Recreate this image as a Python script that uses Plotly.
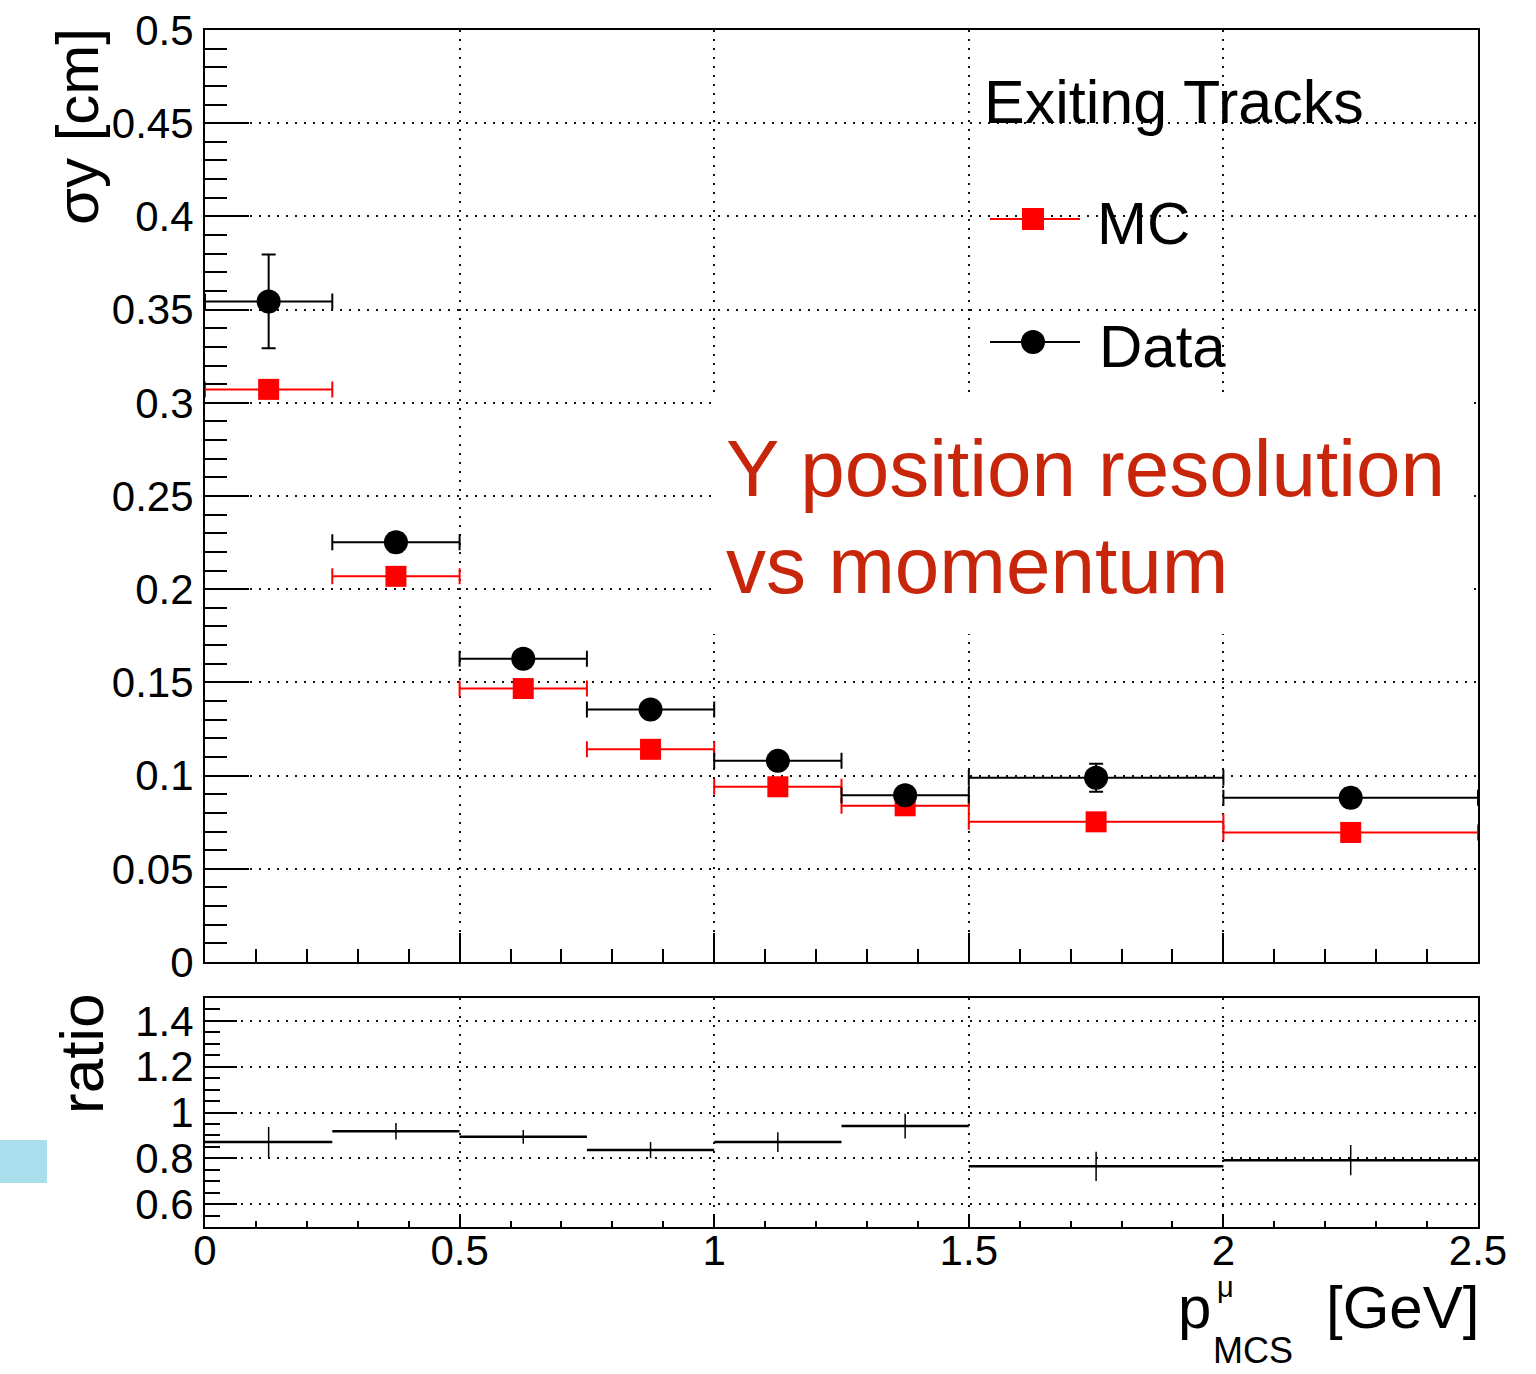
import plotly.graph_objects as go

# ---------------- data ----------------
bin_edges = [0.0, 0.25, 0.5, 0.75, 1.0, 1.25, 1.5, 2.0, 2.5]

data_y = [0.3544, 0.2252, 0.1627, 0.1354, 0.1079, 0.0895, 0.0988, 0.0881]
data_err = [0.0251, 0.0050, 0.0040, 0.0040, 0.0040, 0.0040, 0.0075, 0.0050]

mc_y = [0.3072, 0.2069, 0.1467, 0.1141, 0.0940, 0.0838, 0.0752, 0.0695]
mc_err = [0.0020, 0.0015, 0.0012, 0.0010, 0.0010, 0.0010, 0.0008, 0.0008]

ratio_y = [0.871, 0.918, 0.894, 0.836, 0.871, 0.941, 0.765, 0.792]
ratio_err = [0.066, 0.036, 0.030, 0.035, 0.043, 0.054, 0.064, 0.066]

y_ticks_main = [0, 0.05, 0.1, 0.15, 0.2, 0.25, 0.3, 0.35, 0.4, 0.45, 0.5]
y_ticks_ratio = [0.6, 0.8, 1.0, 1.2, 1.4]
x_ticks = [0, 0.5, 1, 1.5, 2, 2.5]

legend_title = "Exiting Tracks"
label_mc = "MC"
label_data = "Data"
note_line1 = "Y position resolution"
note_line2 = "vs momentum"

# ---------------- derived ----------------
centers = [(a + b) / 2 for a, b in zip(bin_edges[:-1], bin_edges[1:])]
half_w = [(b - a) / 2 for a, b in zip(bin_edges[:-1], bin_edges[1:])]

W, H = 1536, 1374
FONT = "Liberation Sans, Arial, Helvetica, sans-serif"
RED = "#FF0000"
NOTE_RED = "#C8260A"


def px(x):
    return x / W


def py(y):
    return 1 - y / H


fig = go.Figure()

# MC (main panel)
fig.add_trace(go.Scatter(
    x=centers, y=mc_y, mode="markers", name=label_mc,
    marker=dict(symbol="square", size=21, color=RED),
    error_x=dict(type="data", array=half_w, color=RED, thickness=2, width=8),
    error_y=dict(type="data", array=mc_err, color=RED, thickness=2, width=6),
    xaxis="x", yaxis="y", showlegend=False,
))
# Data (main panel)
fig.add_trace(go.Scatter(
    x=centers, y=data_y, mode="markers", name=label_data,
    marker=dict(symbol="circle", size=24, color="black"),
    error_x=dict(type="data", array=half_w, color="black", thickness=2, width=8),
    error_y=dict(type="data", array=data_err, color="black", thickness=2, width=7),
    xaxis="x", yaxis="y", showlegend=False,
))
# Ratio panel
fig.add_trace(go.Scatter(
    x=centers, y=ratio_y, mode="markers",
    marker=dict(size=1, color="rgba(0,0,0,0)"),
    error_x=dict(type="data", array=half_w, color="black", thickness=2.5, width=0),
    error_y=dict(type="data", array=ratio_err, color="black", thickness=1.5, width=0),
    xaxis="x2", yaxis="y2", showlegend=False,
))

GRID = dict(showgrid=True, gridcolor="#111111", gridwidth=2, griddash="2px,7px")
tickfont = dict(family=FONT, size=42, color="black")

x_dom = [px(205), px(1478)]
fig.update_layout(
    width=W, height=H,
    margin=dict(l=0, r=0, t=0, b=0),
    paper_bgcolor="white", plot_bgcolor="white",
    font=dict(family=FONT, color="black"),
    showlegend=False,
    xaxis=dict(
        domain=x_dom, range=[0, 2.5], anchor="y",
        tickvals=x_ticks, showticklabels=False,
        ticks="inside", ticklen=29, tickwidth=2, tickcolor="black",
        minor=dict(dtick=0.1, tick0=0, ticks="inside", ticklen=13, tickwidth=2,
                   tickcolor="black", showgrid=False),
        showline=True, linecolor="black", linewidth=2, mirror=True,
        zeroline=False, automargin=False, **GRID,
    ),
    yaxis=dict(
        domain=[py(962), py(30)], range=[0, 0.5], anchor="x",
        tickvals=y_ticks_main, tickfont=tickfont,
        ticks="inside", ticklen=44, tickwidth=2, tickcolor="black",
        minor=dict(dtick=0.01, tick0=0, ticks="inside", ticklen=22, tickwidth=2,
                   tickcolor="black", showgrid=False),
        showline=True, linecolor="black", linewidth=2, mirror=True,
        zeroline=False, automargin=False, ticklabelstandoff=1, **GRID,
    ),
    xaxis2=dict(
        domain=x_dom, range=[0, 2.5], anchor="y2",
        tickvals=x_ticks, tickfont=tickfont,
        ticks="inside", ticklen=13, tickwidth=2, tickcolor="black",
        minor=dict(dtick=0.1, tick0=0, ticks="inside", ticklen=6, tickwidth=2,
                   tickcolor="black", showgrid=False),
        showline=True, linecolor="black", linewidth=2, mirror=True,
        zeroline=False, automargin=False, ticklabelstandoff=-14, **GRID,
    ),
    yaxis2=dict(
        domain=[py(1227), py(998)], range=[0.5, 1.5], anchor="x2",
        tickvals=y_ticks_ratio, tickfont=tickfont,
        ticks="inside", ticklen=32, tickwidth=2, tickcolor="black",
        minor=dict(dtick=0.05, tick0=0.5, ticks="inside", ticklen=15, tickwidth=2,
                   tickcolor="black", showgrid=False),
        showline=True, linecolor="black", linewidth=2, mirror=True,
        zeroline=False, automargin=False, ticklabelstandoff=1, **GRID,
    ),
)

shapes = []
# white box behind the annotation text (covers grid)
shapes.append(dict(type="rect", xref="paper", yref="paper",
                   x0=px(712), x1=px(1468), y0=py(634), y1=py(398),
                   fillcolor="white", line=dict(width=0), layer="above"))
# light blue block at left edge
shapes.append(dict(type="rect", xref="paper", yref="paper",
                   x0=px(0), x1=px(47), y0=py(1183), y1=py(1140),
                   fillcolor="#A9DFEC", line=dict(width=0), layer="above"))
# legend: MC
shapes.append(dict(type="line", xref="paper", yref="paper",
                   x0=px(990), x1=px(1080), y0=py(219), y1=py(219),
                   line=dict(color=RED, width=2)))
shapes.append(dict(type="rect", xref="paper", yref="paper",
                   x0=px(1022), x1=px(1044), y0=py(230), y1=py(208),
                   fillcolor=RED, line=dict(width=0)))
# legend: Data
shapes.append(dict(type="line", xref="paper", yref="paper",
                   x0=px(990), x1=px(1080), y0=py(342), y1=py(342),
                   line=dict(color="black", width=2)))
shapes.append(dict(type="circle", xref="paper", yref="paper",
                   x0=px(1021), x1=px(1045), y0=py(354), y1=py(330),
                   fillcolor="black", line=dict(width=0)))
fig.update_layout(shapes=shapes)

ann = []


def text(t, x, y, size, color="black", xanchor="left", angle=0):
    ann.append(dict(text=t, x=px(x), y=py(y), xref="paper", yref="paper",
                    xanchor=xanchor, yanchor="middle", showarrow=False,
                    textangle=angle, borderpad=0,
                    font=dict(family=FONT, size=size, color=color)))


text(legend_title, 983, 102, 61)
text(label_mc, 1096, 224, 60)
text(label_data, 1098, 346, 60)
text(note_line1, 725, 468, 80, NOTE_RED)
text(note_line2, 725, 565, 80, NOTE_RED)
# axis titles
text("σy [cm]", 77, 127, 60, xanchor="center", angle=-90)
text("ratio", 81, 1054, 62, xanchor="center", angle=-90)
text("p", 1177, 1307, 60)
text("μ", 1216, 1287, 29)
text("MCS", 1212, 1350, 36)
text("[GeV]", 1480, 1307, 60, xanchor="right")
fig.update_layout(annotations=ann)

fig.write_html("out.html")
